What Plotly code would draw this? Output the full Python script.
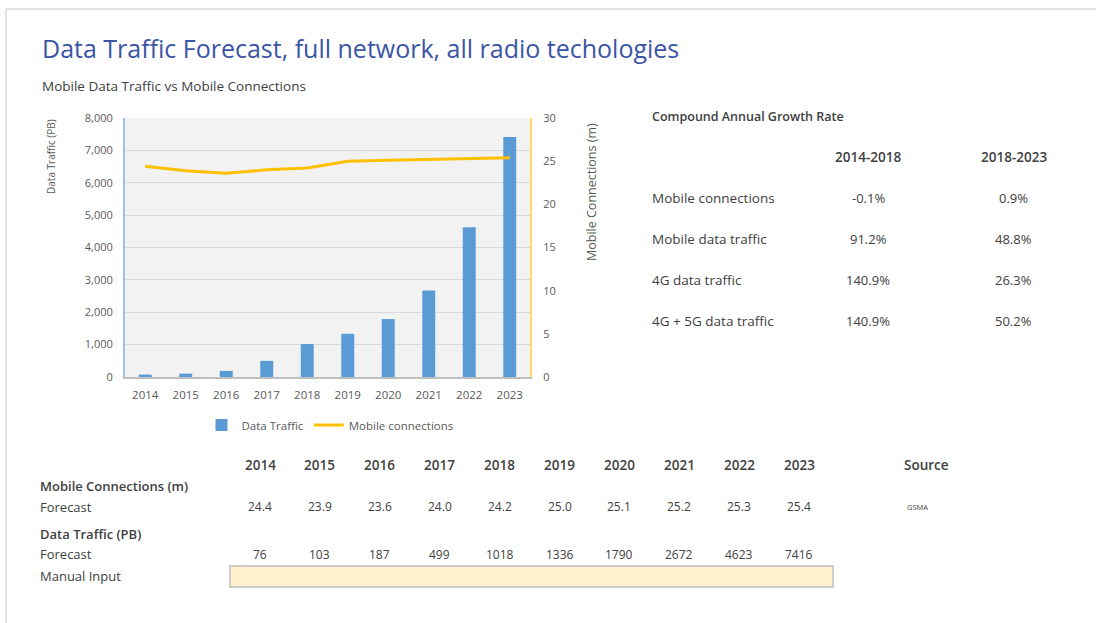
import plotly.graph_objects as go

years = ["2014", "2015", "2016", "2017", "2018", "2019", "2020", "2021", "2022", "2023"]
data_traffic = [76, 103, 187, 499, 1018, 1336, 1790, 2672, 4623, 7416]
mobile_connections = [24.4, 23.9, 23.6, 24.0, 24.2, 25.0, 25.1, 25.2, 25.3, 25.4]
connections_txt = ["24.4", "23.9", "23.6", "24.0", "24.2", "25.0", "25.1", "25.2", "25.3", "25.4"]

cagr_rows = ["Mobile connections", "Mobile data traffic", "4G data traffic", "4G + 5G data traffic"]
cagr_periods = ["2014-2018", "2018-2023"]
cagr_2014_2018 = ["-0.1%", "91.2%", "140.9%", "140.9%"]
cagr_2018_2023 = ["0.9%", "48.8%", "26.3%", "50.2%"]

W, H = 1096, 623
L, R, T, B = 125, 530, 118, 377
FONT = "Open Sans"
TXT = "#404040"


# pixel -> paper coordinates
def px(x):
    return (x - L) / (R - L)


def py(y):
    return (B - y) / (B - T)


fig = go.Figure()

fig.add_trace(go.Bar(
    x=years, y=data_traffic, name="Data Traffic",
    marker=dict(color="#5b9bd5", line=dict(width=0)), width=0.32,
))
fig.add_trace(go.Scatter(
    x=years, y=mobile_connections, name="Mobile connections", yaxis="y2",
    mode="lines", line=dict(color="#ffc000", width=3),
))

ann = []


def text(x, y, s, size=12, anchor="left", color=TXT, weight="normal", angle=0):
    ann.append(dict(x=px(x), y=py(y), xref="paper", yref="paper", text=s,
                    showarrow=False, xanchor=anchor, yanchor="middle", textangle=angle,
                    font=dict(family=FONT, size=size, color=color, weight=weight)))


# titles
text(40, 48, "Data Traffic Forecast, full network, all radio techologies", size=25, color="#3b55a5")
text(40, 86, "Mobile Data Traffic vs Mobile Connections", size=13.5)

# axis titles
text(51, 157, "Data Traffic (PB)", size=10, anchor="center", color="#595959", angle=-90)
text(591, 192, "Mobile Connections (m)", size=12.5, anchor="center", color="#595959", angle=-90)

# CAGR table
text(650, 116, "Compound Annual Growth Rate", size=12.5, weight=600)
col_x = [868, 1014]
for cx, p in zip(col_x, cagr_periods):
    text(cx, 157, p, size=13.5, anchor="center", weight=600)
for i, row in enumerate(cagr_rows):
    y = 198 + i * 41
    text(650, y, row, size=13.5)
    text(col_x[0], y, cagr_2014_2018[i], size=13, anchor="center")
    text(col_x[1], y, cagr_2018_2023[i], size=13, anchor="center")

# bottom data table
year_x = [260 + i * 59.9 for i in range(len(years))]
for x, yr, c, d in zip(year_x, years, connections_txt, data_traffic):
    text(x, 465, yr, size=13.5, anchor="center", weight=600)
    text(x, 507, c, size=12, anchor="center")
    text(x, 554, str(d), size=12, anchor="center")
text(926, 465, "Source", size=13.5, anchor="center", weight=600)
text(917, 507, "GSMA", size=7.5, anchor="center")
text(38, 486, "Mobile Connections (m)", size=13, weight=600)
text(38, 507, "Forecast", size=13)
text(38, 534, "Data Traffic (PB)", size=13, weight=600)
text(38, 554, "Forecast", size=13)
text(38, 576, "Manual Input", size=13)

shapes = [
    # page frame
    dict(type="line", xref="paper", yref="paper", x0=px(6), x1=px(W + 5), y0=py(9), y1=py(9),
         line=dict(color="#e3e3e3", width=2)),
    dict(type="line", xref="paper", yref="paper", x0=px(6), x1=px(6), y0=py(9), y1=py(H + 5),
         line=dict(color="#e3e3e3", width=2)),
    # manual input box
    dict(type="rect", xref="paper", yref="paper", x0=px(230), x1=px(833), y0=py(566), y1=py(587),
         fillcolor="#fff2cc", line=dict(color="#bfbfbf", width=1.5)),
]

fig.update_layout(
    width=W, height=H,
    margin=dict(l=L, r=W - R, t=T, b=H - B, autoexpand=False),
    paper_bgcolor="white", plot_bgcolor="#f2f2f2",
    font=dict(family=FONT, size=11, color="#595959"),
    showlegend=True,
    legend=dict(orientation="h", x=px(330), xanchor="center", y=py(425), yanchor="middle",
                font=dict(family=FONT, size=11.5, color="#595959"), bgcolor="rgba(0,0,0,0)",
                itemwidth=30),
    xaxis=dict(showgrid=False, showline=True, linecolor="#bfbfbf", linewidth=1.5,
               ticks="", ticklabelstandoff=6, tickfont=dict(size=11.5), fixedrange=True),
    yaxis=dict(range=[0, 8000], dtick=1000, tickformat=",", showgrid=True,
               gridcolor="#d9d9d9", gridwidth=1, showline=True, linecolor="#9dc3e6",
               linewidth=2, ticks="", ticklabelstandoff=8, zeroline=False),
    yaxis2=dict(range=[0, 30], dtick=5, overlaying="y", side="right", showgrid=False,
                showline=True, linecolor="#ffd966", linewidth=2, ticks="",
                ticklabelstandoff=9, zeroline=False),
    annotations=ann,
    shapes=shapes,
)

# the page's default body margin would push the figure 8px off
fig.write_html("out.html", config={"displayModeBar": False},
               post_script="document.body.style.margin='0';")
